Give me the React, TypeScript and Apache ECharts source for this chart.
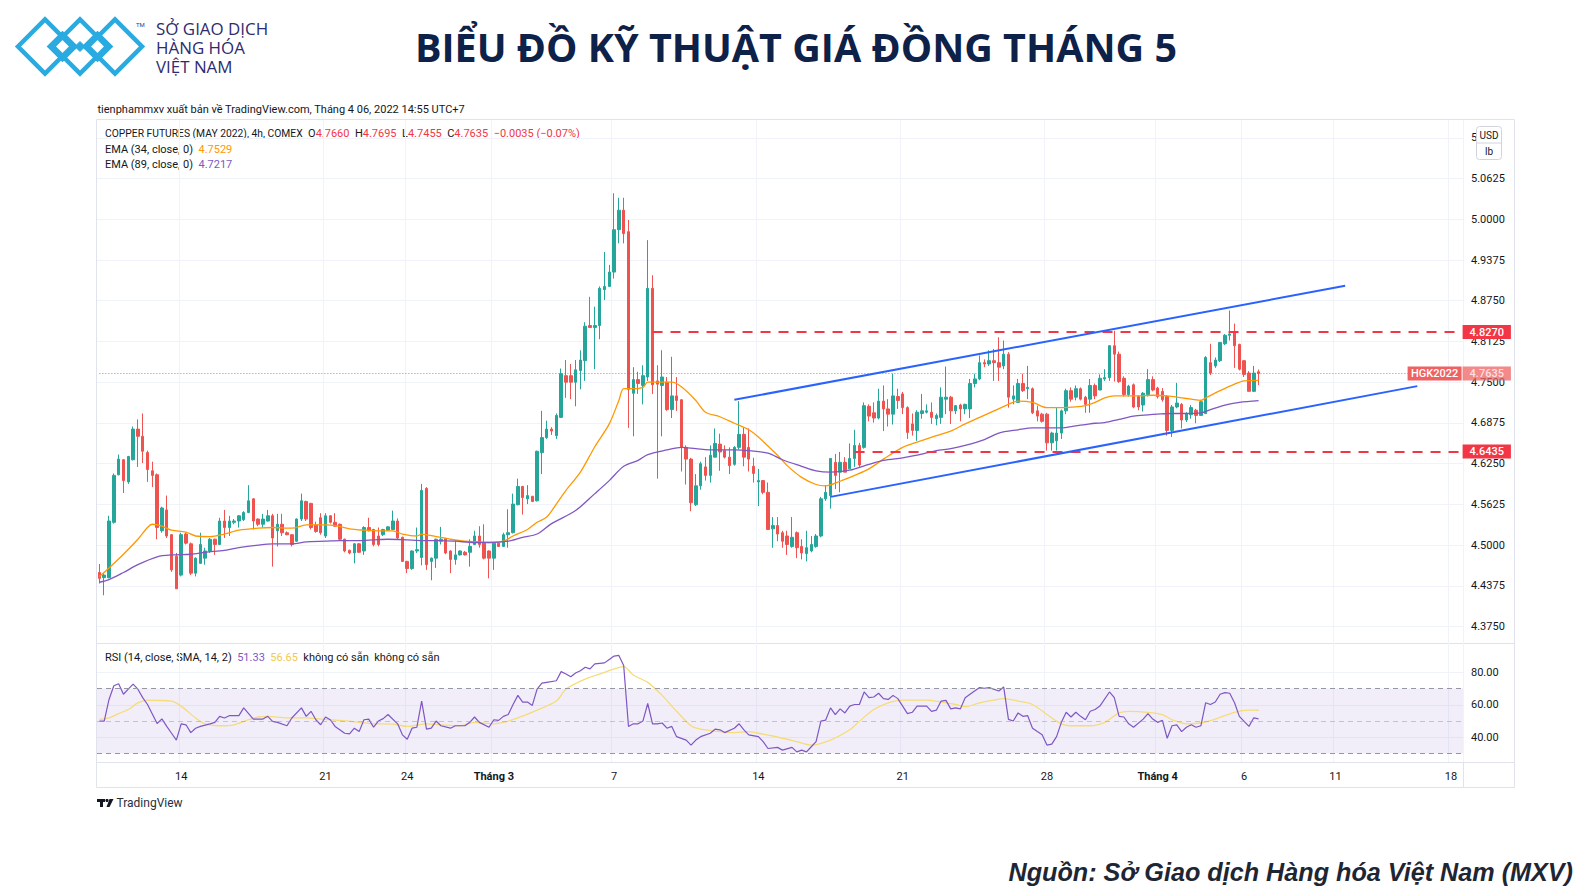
import React, { useEffect, useRef } from "react";
import * as echarts from "echarts";

// ---------- DATA ----------
const SLOT_COUNT = 284; // 242 bars + empty future slots
const categories: string[] = Array.from({ length: SLOT_COUNT }, (_, i) => `bar${i}`);

// [bar index, label, isMonth]
const dateTicks: [number, string, boolean][] = [
  [17, "14", false],
  [47, "21", false],
  [64, "24", false],
  [82, "Tháng 3", true],
  [107, "7", false],
  [137, "14", false],
  [167, "21", false],
  [197, "28", false],
  [220, "Tháng 4", true],
  [238, "6", false],
  [257, "11", false],
  [281, "18", false],
];

// [open, close, low, high] – 4h bars
const candles: number[][] = [
  [4.458, 4.449, 4.441, 4.471], [4.45, 4.454, 4.423, 4.457], [4.45, 4.537, 4.449, 4.545], [4.535, 4.607, 4.533, 4.61],
  [4.608, 4.632, 4.607, 4.639], [4.631, 4.599, 4.58, 4.632], [4.597, 4.636, 4.594, 4.637], [4.631, 4.678, 4.63, 4.682],
  [4.678, 4.667, 4.62, 4.693], [4.667, 4.644, 4.626, 4.702], [4.642, 4.616, 4.597, 4.645], [4.614, 4.607, 4.589, 4.628],
  [4.608, 4.527, 4.509, 4.61], [4.522, 4.557, 4.519, 4.559], [4.554, 4.514, 4.511, 4.576], [4.516, 4.462, 4.459, 4.517],
  [4.483, 4.433, 4.433, 4.488], [4.454, 4.516, 4.452, 4.519], [4.517, 4.503, 4.501, 4.519], [4.502, 4.457, 4.454, 4.504],
  [4.457, 4.48, 4.452, 4.481], [4.472, 4.501, 4.471, 4.519], [4.48, 4.491, 4.47, 4.496], [4.491, 4.509, 4.488, 4.511],
  [4.509, 4.501, 4.485, 4.51], [4.501, 4.537, 4.5, 4.542], [4.537, 4.527, 4.511, 4.554], [4.527, 4.537, 4.514, 4.545],
  [4.535, 4.537, 4.532, 4.54], [4.537, 4.545, 4.527, 4.546], [4.539, 4.55, 4.537, 4.552], [4.55, 4.568, 4.549, 4.592],
  [4.571, 4.537, 4.524, 4.572], [4.54, 4.532, 4.529, 4.541], [4.532, 4.54, 4.527, 4.548], [4.537, 4.545, 4.536, 4.554],
  [4.545, 4.511, 4.467, 4.548], [4.522, 4.532, 4.498, 4.548], [4.532, 4.519, 4.514, 4.548], [4.519, 4.516, 4.515, 4.521],
  [4.516, 4.501, 4.498, 4.517], [4.506, 4.54, 4.505, 4.541], [4.54, 4.568, 4.537, 4.579], [4.567, 4.54, 4.537, 4.568],
  [4.564, 4.527, 4.524, 4.565], [4.531, 4.521, 4.519, 4.536], [4.542, 4.519, 4.516, 4.549], [4.514, 4.545, 4.511, 4.549],
  [4.545, 4.535, 4.533, 4.546], [4.535, 4.529, 4.528, 4.549], [4.532, 4.509, 4.507, 4.533], [4.509, 4.491, 4.489, 4.51],
  [4.492, 4.488, 4.486, 4.493], [4.488, 4.502, 4.472, 4.503], [4.502, 4.489, 4.488, 4.503], [4.491, 4.527, 4.485, 4.529],
  [4.527, 4.522, 4.521, 4.542], [4.524, 4.501, 4.498, 4.525], [4.514, 4.501, 4.498, 4.527], [4.516, 4.524, 4.514, 4.525],
  [4.523, 4.528, 4.522, 4.529], [4.524, 4.537, 4.523, 4.553], [4.537, 4.511, 4.509, 4.541], [4.512, 4.475, 4.474, 4.513],
  [4.475, 4.464, 4.457, 4.476], [4.464, 4.491, 4.462, 4.492], [4.491, 4.493, 4.488, 4.527], [4.481, 4.584, 4.469, 4.594],
  [4.587, 4.47, 4.462, 4.589], [4.475, 4.48, 4.446, 4.481], [4.48, 4.509, 4.465, 4.51], [4.506, 4.509, 4.501, 4.528],
  [4.51, 4.488, 4.486, 4.511], [4.491, 4.478, 4.457, 4.492], [4.478, 4.485, 4.47, 4.507], [4.485, 4.491, 4.484, 4.492],
  [4.489, 4.485, 4.484, 4.491], [4.489, 4.498, 4.467, 4.509], [4.501, 4.514, 4.5, 4.522], [4.514, 4.501, 4.496, 4.529],
  [4.503, 4.48, 4.478, 4.532], [4.491, 4.48, 4.449, 4.492], [4.48, 4.503, 4.462, 4.504], [4.503, 4.498, 4.497, 4.504],
  [4.498, 4.516, 4.497, 4.519], [4.516, 4.519, 4.496, 4.555], [4.519, 4.563, 4.518, 4.579], [4.562, 4.59, 4.561, 4.602],
  [4.59, 4.573, 4.547, 4.591], [4.571, 4.576, 4.563, 4.592], [4.575, 4.567, 4.566, 4.575], [4.568, 4.644, 4.567, 4.645],
  [4.642, 4.665, 4.609, 4.706], [4.665, 4.678, 4.663, 4.691], [4.678, 4.675, 4.669, 4.681], [4.668, 4.699, 4.663, 4.702],
  [4.696, 4.763, 4.695, 4.771], [4.76, 4.75, 4.726, 4.784], [4.76, 4.75, 4.724, 4.778], [4.75, 4.769, 4.713, 4.784],
  [4.768, 4.784, 4.739, 4.799], [4.783, 4.836, 4.752, 4.842], [4.837, 4.834, 4.833, 4.881], [4.834, 4.837, 4.77, 4.866],
  [4.837, 4.894, 4.816, 4.897], [4.892, 4.897, 4.876, 4.95], [4.897, 4.919, 4.896, 4.93], [4.919, 4.984, 4.909, 5.04],
  [4.984, 5.014, 4.963, 5.033], [5.014, 4.978, 4.963, 5.033], [4.981, 4.739, 4.68, 4.999], [4.733, 4.754, 4.667, 4.773],
  [4.754, 4.748, 4.732, 4.766], [4.745, 4.76, 4.716, 4.776], [4.758, 4.894, 4.752, 4.968], [4.894, 4.746, 4.732, 4.914],
  [4.752, 4.747, 4.602, 4.776], [4.745, 4.758, 4.667, 4.799], [4.75, 4.708, 4.706, 4.758], [4.708, 4.729, 4.695, 4.789],
  [4.729, 4.722, 4.706, 4.758], [4.723, 4.65, 4.613, 4.724], [4.65, 4.632, 4.593, 4.653], [4.632, 4.565, 4.552, 4.634],
  [4.562, 4.591, 4.56, 4.609], [4.591, 4.625, 4.585, 4.628], [4.62, 4.607, 4.599, 4.635], [4.607, 4.638, 4.596, 4.653],
  [4.635, 4.656, 4.635, 4.679], [4.655, 4.643, 4.614, 4.671], [4.645, 4.635, 4.633, 4.653], [4.635, 4.622, 4.609, 4.65],
  [4.624, 4.65, 4.622, 4.652], [4.65, 4.67, 4.647, 4.721], [4.67, 4.635, 4.621, 4.681], [4.65, 4.632, 4.613, 4.679],
  [4.621, 4.61, 4.596, 4.634], [4.597, 4.599, 4.56, 4.617], [4.599, 4.581, 4.578, 4.6], [4.581, 4.524, 4.524, 4.596],
  [4.525, 4.53, 4.496, 4.543], [4.53, 4.517, 4.506, 4.543], [4.519, 4.506, 4.496, 4.522], [4.514, 4.501, 4.485, 4.522],
  [4.498, 4.512, 4.496, 4.543], [4.519, 4.496, 4.48, 4.521], [4.498, 4.488, 4.478, 4.509], [4.487, 4.496, 4.475, 4.522],
  [4.491, 4.501, 4.489, 4.514], [4.498, 4.514, 4.496, 4.517], [4.514, 4.571, 4.512, 4.574], [4.571, 4.581, 4.568, 4.592],
  [4.576, 4.633, 4.556, 4.633], [4.627, 4.607, 4.586, 4.64], [4.612, 4.627, 4.581, 4.643], [4.627, 4.612, 4.612, 4.635],
  [4.617, 4.633, 4.617, 4.656], [4.633, 4.653, 4.62, 4.677], [4.653, 4.623, 4.62, 4.657], [4.65, 4.714, 4.648, 4.719],
  [4.713, 4.698, 4.69, 4.716], [4.703, 4.695, 4.688, 4.719], [4.695, 4.721, 4.693, 4.74], [4.721, 4.709, 4.675, 4.745],
  [4.709, 4.701, 4.682, 4.724], [4.701, 4.729, 4.685, 4.763], [4.728, 4.722, 4.709, 4.74], [4.732, 4.711, 4.701, 4.735],
  [4.711, 4.673, 4.663, 4.713], [4.686, 4.676, 4.668, 4.702], [4.676, 4.704, 4.66, 4.707], [4.702, 4.706, 4.694, 4.732],
  [4.704, 4.706, 4.702, 4.716], [4.704, 4.696, 4.686, 4.719], [4.694, 4.699, 4.684, 4.702], [4.696, 4.727, 4.686, 4.742],
  [4.724, 4.727, 4.701, 4.774], [4.727, 4.706, 4.686, 4.729], [4.706, 4.714, 4.701, 4.715], [4.715, 4.709, 4.69, 4.717],
  [4.709, 4.716, 4.701, 4.717], [4.709, 4.748, 4.695, 4.755], [4.748, 4.755, 4.742, 4.763], [4.755, 4.78, 4.753, 4.791],
  [4.78, 4.778, 4.773, 4.785], [4.778, 4.783, 4.775, 4.799], [4.783, 4.78, 4.752, 4.801], [4.78, 4.773, 4.752, 4.819],
  [4.775, 4.793, 4.77, 4.814], [4.793, 4.727, 4.711, 4.796], [4.724, 4.729, 4.716, 4.745], [4.719, 4.748, 4.719, 4.755],
  [4.748, 4.737, 4.735, 4.763], [4.74, 4.742, 4.724, 4.775], [4.74, 4.703, 4.701, 4.742], [4.706, 4.698, 4.69, 4.714],
  [4.701, 4.69, 4.688, 4.703], [4.701, 4.657, 4.645, 4.703], [4.657, 4.672, 4.645, 4.674], [4.66, 4.672, 4.645, 4.711],
  [4.672, 4.706, 4.663, 4.708], [4.706, 4.737, 4.701, 4.74], [4.737, 4.724, 4.72, 4.742], [4.727, 4.74, 4.722, 4.745],
  [4.74, 4.724, 4.722, 4.742], [4.727, 4.716, 4.703, 4.729], [4.724, 4.745, 4.703, 4.755], [4.745, 4.729, 4.724, 4.748],
  [4.738, 4.756, 4.738, 4.762], [4.755, 4.757, 4.752, 4.77], [4.757, 4.806, 4.752, 4.807], [4.806, 4.793, 4.751, 4.829],
  [4.793, 4.751, 4.749, 4.797], [4.756, 4.731, 4.728, 4.759], [4.731, 4.744, 4.728, 4.746], [4.746, 4.712, 4.71, 4.748],
  [4.728, 4.712, 4.707, 4.73], [4.715, 4.733, 4.705, 4.735], [4.731, 4.754, 4.728, 4.77], [4.754, 4.738, 4.736, 4.759],
  [4.741, 4.728, 4.725, 4.743], [4.736, 4.723, 4.72, 4.741], [4.728, 4.676, 4.668, 4.73], [4.676, 4.712, 4.666, 4.715],
  [4.712, 4.718, 4.71, 4.749], [4.716, 4.692, 4.679, 4.718], [4.692, 4.702, 4.689, 4.704], [4.7, 4.711, 4.694, 4.715],
  [4.707, 4.699, 4.687, 4.709], [4.699, 4.72, 4.699, 4.723], [4.702, 4.788, 4.701, 4.79], [4.78, 4.764, 4.761, 4.809],
  [4.775, 4.784, 4.772, 4.788], [4.783, 4.811, 4.781, 4.811], [4.809, 4.822, 4.807, 4.824], [4.822, 4.824, 4.814, 4.86],
  [4.827, 4.806, 4.772, 4.84], [4.808, 4.77, 4.768, 4.809], [4.783, 4.762, 4.758, 4.784], [4.764, 4.736, 4.736, 4.767],
  [4.736, 4.764, 4.735, 4.775], [4.766, 4.7635, 4.7455, 4.7695],
];

// [bar index, value]
const ema34: [number, number][] = [
  [0, 4.452], [2, 4.465], [5, 4.486], [8, 4.509], [10, 4.527], [11, 4.532], [13, 4.529], [15, 4.523], [18, 4.52],
  [20, 4.514], [23, 4.513], [26, 4.517], [29, 4.523], [33, 4.526], [36, 4.527], [40, 4.526], [43, 4.531], [47, 4.531],
  [49, 4.53], [52, 4.525], [55, 4.523], [58, 4.522], [61, 4.522], [63, 4.517], [66, 4.514], [67, 4.517], [70, 4.513],
  [73, 4.509], [76, 4.506], [79, 4.505], [81, 4.504], [84, 4.506], [86, 4.514], [89, 4.524], [91, 4.535], [93, 4.543],
  [95, 4.563], [97, 4.584], [100, 4.612], [103, 4.651], [106, 4.686], [108, 4.722], [109, 4.74], [111, 4.74],
  [113, 4.742], [114, 4.75], [117, 4.75], [119, 4.75], [121, 4.743], [124, 4.722], [126, 4.704], [129, 4.697],
  [132, 4.687], [135, 4.677], [137, 4.666], [139, 4.652], [141, 4.638], [143, 4.622], [146, 4.604], [149, 4.593],
  [151, 4.591], [154, 4.598], [157, 4.607], [160, 4.617], [163, 4.632], [167, 4.65], [170, 4.658], [174, 4.668],
  [177, 4.675], [180, 4.686], [183, 4.696], [186, 4.706], [189, 4.716], [191, 4.721], [194, 4.719], [197, 4.711],
  [200, 4.711], [203, 4.712], [205, 4.714], [207, 4.719], [209, 4.726], [211, 4.729], [214, 4.729], [216, 4.729],
  [219, 4.73], [222, 4.729], [225, 4.726], [227, 4.724], [229, 4.722], [230, 4.726], [233, 4.737], [236, 4.747],
  [238, 4.752], [241, 4.7529],
];
const ema89: [number, number][] = [
  [0, 4.443], [2, 4.447], [5, 4.458], [8, 4.47], [12, 4.482], [15, 4.485], [19, 4.486], [22, 4.489], [26, 4.492],
  [29, 4.496], [33, 4.5], [36, 4.502], [40, 4.502], [43, 4.505], [47, 4.506], [50, 4.507], [54, 4.507], [57, 4.508],
  [60, 4.509], [64, 4.508], [67, 4.507], [71, 4.507], [74, 4.506], [78, 4.504], [81, 4.504], [85, 4.506], [88, 4.512],
  [91, 4.517], [94, 4.533], [99, 4.553], [103, 4.579], [106, 4.599], [109, 4.621], [112, 4.63], [114, 4.639],
  [118, 4.646], [121, 4.65], [124, 4.648], [128, 4.646], [132, 4.646], [135, 4.645], [139, 4.641], [142, 4.631],
  [146, 4.621], [149, 4.614], [152, 4.612], [156, 4.615], [160, 4.624], [163, 4.63], [167, 4.634], [170, 4.638],
  [174, 4.645], [177, 4.648], [180, 4.653], [184, 4.662], [187, 4.672], [191, 4.677], [194, 4.68], [197, 4.68],
  [200, 4.68], [203, 4.683], [205, 4.685], [207, 4.687], [209, 4.688], [212, 4.693], [215, 4.698], [218, 4.7],
  [220, 4.701], [223, 4.702], [226, 4.702], [229, 4.703], [231, 4.708], [234, 4.715], [237, 4.719], [241, 4.7217],
];

const rsi: [number, number][] = [
  [0, 50], [1, 50], [2, 63.3], [3, 71.7], [4, 73], [5, 66.5], [6, 69.6], [7, 72.7], [8, 69.6], [9, 64.4], [10, 60.2],
  [12, 48.5], [13, 51.3], [14, 46.7], [15, 42.5], [16, 38.3], [17, 48.3], [18, 47.7], [19, 42.9], [20, 45.6], [21, 46.7],
  [23, 48.3], [24, 49.2], [25, 52.9], [26, 51.9], [27, 53.3], [29, 53.3], [30, 58.1], [32, 51.2], [34, 51.2], [35, 52.9],
  [36, 49.8], [37, 49.2], [39, 47.1], [40, 51.9], [42, 58.1], [43, 52.9], [44, 56], [45, 50.8], [46, 47.7], [47, 52.5],
  [48, 50.8], [49, 46.7], [51, 42.5], [52, 42.1], [53, 45.6], [54, 43.5], [55, 50.8], [56, 51.2], [57, 46.2], [58, 50],
  [59, 51.5], [60, 54], [62, 48.3], [63, 41.5], [64, 38.8], [65, 45.6], [66, 46.2], [67, 62.3], [68, 45], [69, 45.6],
  [70, 50], [71, 47.1], [73, 45.6], [74, 47.1], [76, 47.1], [77, 49.2], [78, 52.5], [79, 49.2], [81, 46.2], [82, 50.8],
  [83, 50.4], [84, 52.9], [85, 54], [86, 60.2], [87, 65.8], [88, 61.7], [89, 61.7], [90, 59.6], [91, 69.6], [92, 73.3],
  [93, 73.8], [95, 74.8], [96, 80.4], [97, 79], [98, 77.3], [99, 79.6], [100, 81], [101, 83.1], [102, 82.1], [103, 85.2],
  [105, 85.8], [106, 87.9], [107, 90], [108, 90.4], [109, 84.2], [110, 46.7], [111, 48.3], [112, 48.3], [113, 50],
  [114, 60.8], [115, 48.3], [116, 48.3], [117, 48.8], [118, 45.6], [119, 46.7], [120, 40.4], [122, 38.3], [123, 35.2],
  [124, 38.3], [125, 40.4], [127, 42.5], [128, 45], [129, 44.6], [130, 42.9], [132, 45.6], [133, 48.3], [134, 44.6],
  [135, 41.5], [137, 40.4], [138, 37.3], [139, 33.1], [141, 33.8], [142, 32.1], [144, 33.8], [145, 31], [146, 32.1],
  [147, 31], [148, 34.2], [149, 37.3], [150, 50], [151, 50.6], [152, 58.1], [153, 53.9], [154, 57.5], [155, 55],
  [156, 59.2], [157, 60.2], [158, 60.2], [159, 67.9], [160, 64.4], [161, 64.8], [162, 67.1], [163, 63.8], [164, 63.3],
  [165, 65.8], [166, 63.8], [168, 54.6], [169, 55.4], [170, 59.2], [172, 59.2], [173, 56], [174, 56.7], [175, 62.3],
  [176, 62.7], [177, 57.5], [178, 58.1], [179, 57.5], [180, 64.4], [181, 66.5], [183, 70.6], [184, 70.2], [185, 70.6],
  [187, 68.5], [188, 71], [189, 51], [190, 50], [191, 55], [192, 52.9], [193, 53.3], [194, 45.6], [195, 43.5],
  [196, 41.5], [197, 35.2], [198, 35.8], [199, 40.4], [200, 49.2], [201, 55.4], [202, 52.5], [203, 55.4], [204, 52.9],
  [205, 50.8], [206, 56], [207, 57.1], [208, 59.2], [210, 67.9], [211, 64.4], [212, 52.9], [213, 52.5], [214, 48.3],
  [215, 46.2], [217, 51.2], [218, 54.6], [219, 51.2], [220, 49.2], [221, 50.4], [222, 39.4], [223, 47.1], [224, 47.7],
  [225, 43.5], [226, 46.2], [227, 47.7], [228, 46.2], [229, 47.1], [230, 61.3], [231, 60.2], [232, 61.7], [233, 66.5],
  [234, 67.5], [235, 67.1], [236, 61.3], [237, 52.9], [239, 46.7], [240, 52], [241, 51.33],
];
const rsiSma: [number, number][] = [
  [0, 51], [2, 52], [4, 54.6], [6, 57.1], [8, 61.2], [10, 62.9], [12, 62.7], [15, 62.3], [17, 59.2], [20, 51.9],
  [22, 48.3], [25, 47.1], [28, 47.7], [31, 50.8], [33, 52.5], [35, 52.9], [39, 51.9], [43, 51.9], [46, 51.2], [50, 50.4],
  [54, 49.2], [57, 48.3], [61, 48.1], [64, 46.7], [68, 48.3], [71, 47.7], [75, 47.1], [78, 49.2], [82, 48.3], [84, 49.2],
  [87, 51.9], [91, 56.7], [95, 62.3], [97, 69.6], [101, 75.8], [105, 80], [109, 83.5], [111, 78.3], [114, 73.8],
  [117, 65.8], [120, 56], [123, 47.1], [125, 45], [129, 43.5], [132, 42.9], [135, 43.5], [137, 42.5], [140, 40.8],
  [143, 38.8], [145, 37.3], [148, 35.2], [152, 38.3], [156, 44.6], [158, 49.8], [161, 57.1], [164, 61.2], [167, 62.9],
  [170, 62.9], [172, 62.9], [175, 61.7], [178, 60.2], [180, 58.8], [183, 61.2], [186, 62.9], [188, 63.8], [191, 62.3],
  [194, 60.2], [197, 54], [200, 48.3], [202, 47.1], [206, 47.1], [209, 49.2], [212, 55], [214, 56], [218, 55.4],
  [221, 54], [223, 50.8], [226, 48.3], [229, 48.8], [232, 51.2], [236, 55.4], [239, 56.7], [241, 56.65],
];

const resistanceLevel = 4.827;
const resistanceStart = 115;
const supportLevel = 4.6435;
const supportStart = 157;
const lastPrice = 4.7635;
const upperChannel: [number, number][] = [[132, 4.723], [259, 4.898]];
const lowerChannel: [number, number][] = [[152, 4.574], [274, 4.744]];
const rsiBands = [70, 50, 30];
const logoLines = ["SỞ GIAO DỊCH", "HÀNG HÓA", "VIỆT NAM"];

// ---------- STYLE ----------
const UP = "#26a69a";
const DOWN = "#ef5350";
const TXT = "#131722";
const GRIDC = "#f0f3fa";
const BORDER = "#e0e3eb";
const FONT = "Roboto, 'Noto Sans', sans-serif";

const PLOT_LEFT = 97;
const PLOT_WIDTH = 1366;

const tickSet = new Map<number, [string, boolean]>(dateTicks.map((t) => [t[0], [t[1], t[2]]]));

function buildOption(): any {
  const redBox = (txt: string, bg: string) => ({
    show: true,
    position: "end",
    distance: 2,
    formatter: txt,
    color: "#fff",
    backgroundColor: bg,
    padding: [2, 7, 1, 7],
    fontSize: 11,
    fontFamily: FONT,
    fontWeight: 500,
  });

  const logoDiamond = (cx: number, cy: number, h: number, lw: number, fill?: string) => ({
    type: "polygon",
    shape: { points: [[cx - h, cy], [cx, cy - h], [cx + h, cy], [cx, cy + h]] },
    style: fill ? { fill, stroke: fill, lineWidth: 1 } : { fill: "none", stroke: "#29aae1", lineWidth: lw },
    silent: true,
  });

  const graphics: any[] = [
    // logo
    logoDiamond(45, 46.5, 27, 4.5),
    logoDiamond(80, 46.5, 27, 4.5),
    logoDiamond(115, 46.5, 27, 4.5),
    logoDiamond(62.5, 46.5, 13, 4),
    logoDiamond(97.5, 46.5, 13, 4),
    logoDiamond(80, 46.5, 5, 1, "#29aae1"),
    { type: "text", x: 136, y: 24, style: { text: "TM", fill: "#3a3a7a", fontSize: 6, fontFamily: FONT, verticalAlign: "middle" } },
    ...logoLines.map((t, k) => ({
      type: "text", x: 156, y: 29 + k * 19, scaleX: 1.07,
      style: { text: t, fill: "#2e2b6f", fontSize: 15.8, fontFamily: "'Open Sans', sans-serif", verticalAlign: "middle" },
    })),
    // title
    {
      type: "text", x: 796, y: 46.5,
      style: { text: "BIỂU ĐỒ KỸ THUẬT GIÁ ĐỒNG THÁNG 5", fill: "#0e2148", fontSize: 39.5, fontWeight: "bold", fontFamily: "'Open Sans', sans-serif", align: "center", verticalAlign: "middle" },
    },
    // publisher line
    {
      type: "text", x: 97.5, y: 109,
      style: { text: "tienphammxv xuất bản về TradingView.com, Tháng 4 06, 2022 14:55 UTC+7", fill: TXT, fontSize: 11, fontFamily: FONT, verticalAlign: "middle" },
    },
    // frame
    { type: "rect", shape: { x: 96.5, y: 119.5, width: 1418, height: 668 }, style: { fill: "none", stroke: BORDER, lineWidth: 1 }, silent: true },
    { type: "line", shape: { x1: 1463.5, y1: 120, x2: 1463.5, y2: 788 }, style: { stroke: BORDER, lineWidth: 1 }, silent: true },
    { type: "line", shape: { x1: 96, y1: 643.5, x2: 1515, y2: 643.5 }, style: { stroke: BORDER, lineWidth: 1 }, silent: true },
    { type: "line", shape: { x1: 96, y1: 762.5, x2: 1515, y2: 762.5 }, style: { stroke: BORDER, lineWidth: 1 }, silent: true },
    // legend
    {
      type: "text", x: 105, y: 133,
      style: {
        text: "{n|COPPER FUTURES (MAY 2022), 4h, COMEX}{d|  O}{r|4.7660}{d|  H}{r|4.7695}{d|  L}{r|4.7455}{d|  C}{r|4.7635}{r|  −0.0035 (−0.07%)}",
        verticalAlign: "middle",
        rich: {
          n: { fill: TXT, fontSize: 10.3, fontFamily: FONT },
          d: { fill: TXT, fontSize: 11, fontFamily: FONT },
          r: { fill: "#f23645", fontSize: 11, fontFamily: FONT },
        },
      },
    },
    {
      type: "text", x: 105, y: 149,
      style: {
        text: "{d|EMA (34, close, 0)  }{o|4.7529}", verticalAlign: "middle",
        rich: { d: { fill: TXT, fontSize: 11, fontFamily: FONT }, o: { fill: "#ff9800", fontSize: 11, fontFamily: FONT } },
      },
    },
    {
      type: "text", x: 105, y: 164.5,
      style: {
        text: "{d|EMA (89, close, 0)  }{p|4.7217}", verticalAlign: "middle",
        rich: { d: { fill: TXT, fontSize: 11, fontFamily: FONT }, p: { fill: "#7e57c2", fontSize: 11, fontFamily: FONT } },
      },
    },
    {
      type: "text", x: 105, y: 657,
      style: {
        text: "{d|RSI (14, close, SMA, 14, 2)  }{p|51.33}{d|  }{y|56.65}{d|  không có sẵn  không có sẵn}", verticalAlign: "middle",
        rich: {
          d: { fill: TXT, fontSize: 11, fontFamily: FONT },
          p: { fill: "#7e57c2", fontSize: 11, fontFamily: FONT },
          y: { fill: "#f2c94c", fontSize: 11, fontFamily: FONT },
        },
      },
    },
    // USD / lb box
    { type: "rect", z: 100, shape: { x: 1476.5, y: 126.5, width: 25, height: 33, r: 3 }, style: { fill: "#fff", stroke: "#d1d4dc", lineWidth: 1 }, silent: true },
    { type: "line", z: 101, shape: { x1: 1477, y1: 143, x2: 1501, y2: 143 }, style: { stroke: "#d1d4dc", lineWidth: 1 }, silent: true },
    { type: "text", z: 102, x: 1489, y: 135, style: { text: "USD", fill: TXT, fontSize: 10, fontFamily: FONT, align: "center", verticalAlign: "middle" } },
    { type: "text", z: 102, x: 1489, y: 151.5, style: { text: "lb", fill: TXT, fontSize: 10, fontFamily: FONT, align: "center", verticalAlign: "middle" } },
    // TradingView logo
    { type: "rect", shape: { x: 97, y: 799, width: 8, height: 3 }, style: { fill: "#131722" }, silent: true },
    { type: "rect", shape: { x: 100, y: 799, width: 3, height: 8 }, style: { fill: "#131722" }, silent: true },
    { type: "circle", shape: { cx: 107, cy: 800.5, r: 1.6 }, style: { fill: "#131722" }, silent: true },
    { type: "polygon", shape: { points: [[109.5, 799], [113.5, 799], [109.5, 807], [106.5, 807]] }, style: { fill: "#131722" }, silent: true },
    { type: "text", x: 116.5, y: 803, style: { text: "TradingView", fill: "#2a2e39", fontSize: 12, fontFamily: FONT, verticalAlign: "middle" } },
    // source
    {
      type: "text", x: 1573, y: 872,
      style: { text: "Nguồn: Sở Giao dịch Hàng hóa Việt Nam (MXV)", fill: "#1f2633", fontSize: 25.2, fontWeight: "bold", fontStyle: "italic", fontFamily: "'Liberation Sans', Arial, sans-serif", align: "right", verticalAlign: "middle" },
    },
  ];

  return {
    animation: false,
    backgroundColor: "#ffffff",
    textStyle: { fontFamily: FONT },
    grid: [
      { left: PLOT_LEFT, top: 120, width: PLOT_WIDTH, height: 642 },
      { left: PLOT_LEFT, top: 97.1, width: PLOT_WIDTH, height: 570.2 },
      { left: PLOT_LEFT, top: 639.8, width: PLOT_WIDTH, height: 130 },
    ],
    xAxis: [
      {
        gridIndex: 0, type: "category", data: categories, boundaryGap: true,
        axisLine: { show: false }, axisTick: { show: false },
        axisLabel: {
          interval: (i: number) => tickSet.has(i),
          formatter: (_v: string, i: number) => {
            const t = tickSet.get(i);
            if (!t) return "";
            return t[1] ? `{m|${t[0]}}` : t[0];
          },
          color: TXT, fontSize: 11, margin: 9, fontFamily: FONT,
          rich: { m: { fontWeight: "bold", color: TXT, fontSize: 11, fontFamily: FONT } },
        },
        splitLine: { show: true, interval: (i: number) => tickSet.has(i), lineStyle: { color: GRIDC, width: 1 } },
      },
      { gridIndex: 1, type: "category", data: categories, boundaryGap: true, show: false },
      { gridIndex: 2, type: "category", data: categories, boundaryGap: true, show: false },
    ],
    yAxis: [
      { gridIndex: 0, type: "value", show: false },
      {
        gridIndex: 1, type: "value", position: "right", min: 4.3125, max: 5.1875, interval: 0.0625,
        axisLine: { show: false }, axisTick: { show: false },
        axisLabel: {
          // the 5.1250 label sits behind the USD/lb unit box; only its first digit shows
          formatter: (v: number) => (Math.abs(v - 5.125) < 1e-9 ? "5" : v.toFixed(4)),
          color: TXT, fontSize: 11, margin: 8, showMinLabel: false, showMaxLabel: false, fontFamily: FONT,
        },
        splitLine: { show: true, lineStyle: { color: GRIDC }, showMinLine: false, showMaxLine: false },
      },
      {
        gridIndex: 2, type: "value", position: "right", min: 20, max: 100, interval: 20,
        axisLine: { show: false }, axisTick: { show: false },
        axisLabel: { formatter: (v: number) => v.toFixed(2), color: TXT, fontSize: 11, margin: 8, showMinLabel: false, showMaxLabel: false, fontFamily: FONT },
        splitLine: { show: true, lineStyle: { color: GRIDC }, showMinLine: false, showMaxLine: false },
      },
    ],
    series: [
      {
        type: "candlestick", name: "HGK2022", xAxisIndex: 1, yAxisIndex: 1, data: candles, barWidth: 3,
        itemStyle: { color: UP, color0: DOWN, borderColor: UP, borderColor0: DOWN, borderWidth: 1 },
        markLine: {
          silent: true, animation: false, symbol: ["none", "none"], label: { show: false },
          data: [
            [
              { coord: [0, lastPrice], lineStyle: { color: "#f23645", width: 1, type: [1, 2], opacity: 0.75 }, label: redBox(lastPrice.toFixed(4), "#f06161") },
              { coord: [SLOT_COUNT - 1, lastPrice] },
            ],
            [
              { coord: [resistanceStart, resistanceLevel], lineStyle: { color: "#f23645", width: 2, type: [10, 8] }, label: redBox(resistanceLevel.toFixed(4), "#f23645") },
              { coord: [SLOT_COUNT - 1, resistanceLevel] },
            ],
            [
              { coord: [supportStart, supportLevel], lineStyle: { color: "#f23645", width: 2, type: [10, 8] }, label: redBox(supportLevel.toFixed(4), "#f23645") },
              { coord: [SLOT_COUNT - 1, supportLevel] },
            ],
            [
              { coord: upperChannel[0], lineStyle: { color: "#2962ff", width: 2, type: "solid" } },
              { coord: upperChannel[1] },
            ],
            [
              { coord: lowerChannel[0], lineStyle: { color: "#2962ff", width: 2, type: "solid" } },
              { coord: lowerChannel[1] },
            ],
          ],
        },
        markPoint: {
          silent: true, animation: false,
          data: [
            {
              coord: [SLOT_COUNT - 1, lastPrice], symbol: "rect", symbolSize: [54, 14], symbolOffset: [-26, 0],
              itemStyle: { color: "#f06161" },
              label: { show: true, position: "inside", formatter: "HGK2022", color: "#fff", fontSize: 11, fontFamily: FONT, fontWeight: 500 },
            },
          ],
        },
      },
      {
        type: "line", name: "EMA34", xAxisIndex: 1, yAxisIndex: 1, data: ema34, showSymbol: false, smooth: 0.3,
        lineStyle: { color: "#ff9800", width: 1.3 }, silent: true, z: 3,
      },
      {
        type: "line", name: "EMA89", xAxisIndex: 1, yAxisIndex: 1, data: ema89, showSymbol: false, smooth: 0.3,
        lineStyle: { color: "#7e57c2", width: 1.3 }, silent: true, z: 3,
      },
      {
        type: "line", name: "RSI", xAxisIndex: 2, yAxisIndex: 2, data: rsi, showSymbol: false,
        lineStyle: { color: "#7e57c2", width: 1.2 }, silent: true, z: 4,
        markArea: { silent: true, itemStyle: { color: "rgba(126,87,194,0.1)" }, data: [[{ yAxis: rsiBands[2] }, { yAxis: rsiBands[0] }]] },
        markLine: {
          silent: true, animation: false, symbol: ["none", "none"], label: { show: false },
          lineStyle: { color: "#9598a1", type: [5, 4], width: 1 },
          data: [{ yAxis: rsiBands[0] }, { yAxis: rsiBands[1], lineStyle: { opacity: 0.5 } }, { yAxis: rsiBands[2] }],
        },
      },
      {
        type: "line", name: "RSI SMA", xAxisIndex: 2, yAxisIndex: 2, data: rsiSma, showSymbol: false, smooth: 0.3,
        lineStyle: { color: "#f5dc78", width: 1.3 }, silent: true, z: 3,
      },
    ],
    graphic: { elements: graphics },
  };
}

export default function App() {
  const ref = useRef<HTMLDivElement>(null);
  useEffect(() => {
    document.body.style.margin = "0";
    if (!ref.current) return;
    const chart = echarts.init(ref.current, undefined, { renderer: "svg" });
    chart.setOption(buildOption());
    return () => chart.dispose();
  }, []);
  return <div ref={ref} style={{ width: 1589, height: 894, background: "#fff" }} />;
}
